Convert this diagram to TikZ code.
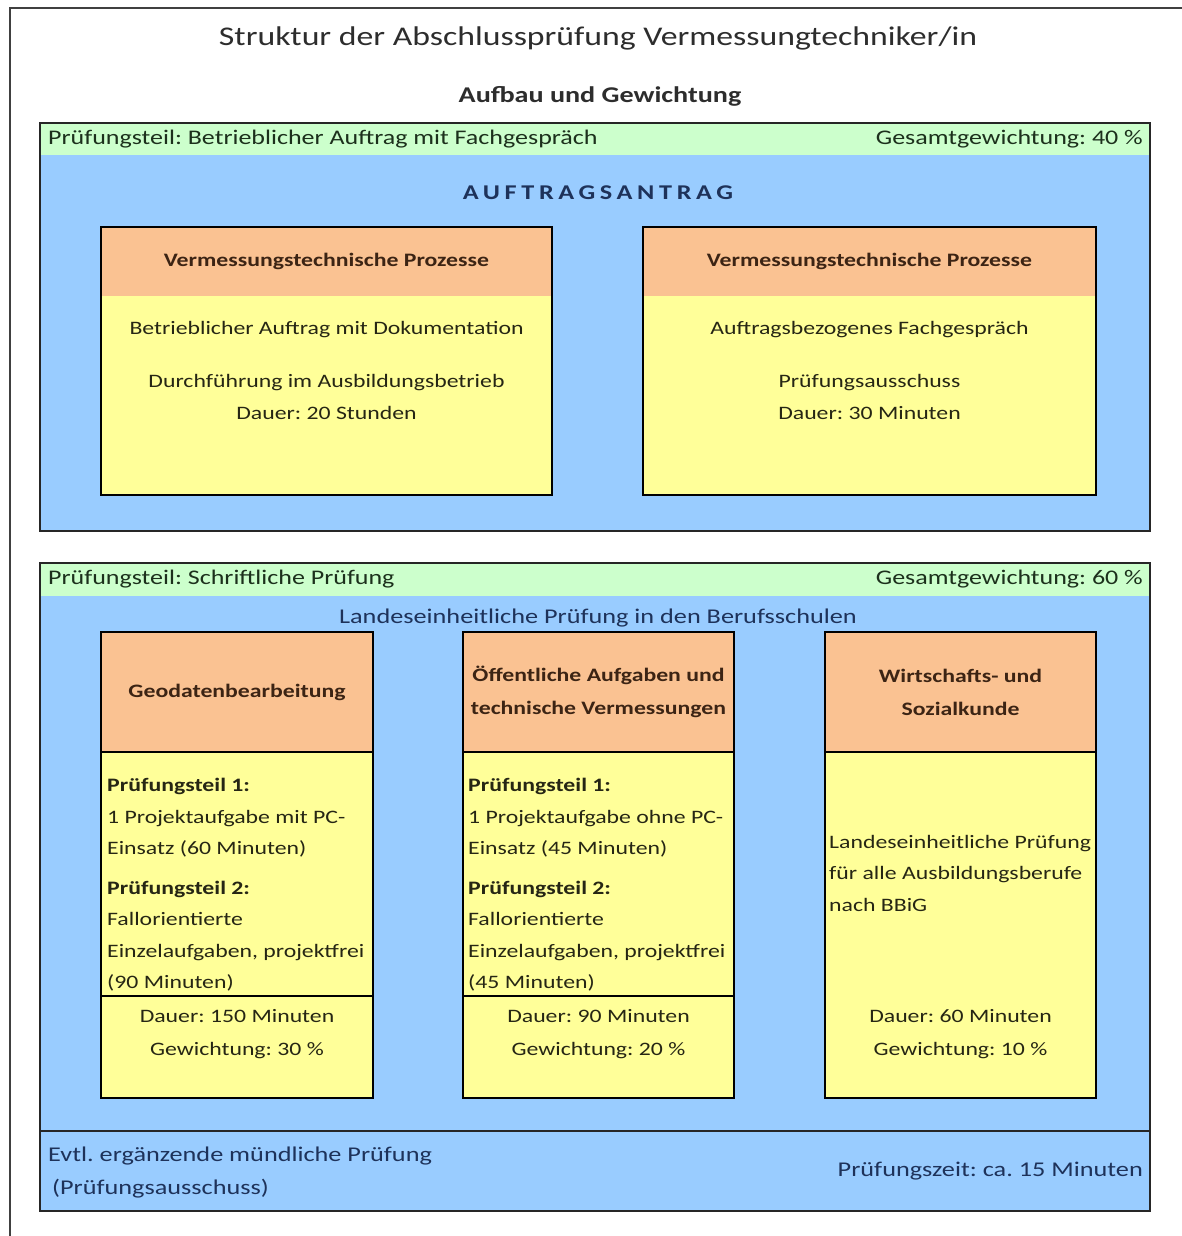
\documentclass[tikz,border=0pt]{standalone}
\usepackage{fontspec}
\setmainfont{Carlito}[FakeStretch=1.25]
\newfontfamily\spacedfont[FakeStretch=1.25,LetterSpace=22]{Carlito}
\usetikzlibrary{positioning,calc}
\definecolor{stripgreen}{RGB}{204,255,204}
\definecolor{secblue}{RGB}{153,204,255}
\definecolor{headorange}{RGB}{250,194,146}
\definecolor{bodyyellow}{RGB}{255,255,153}
\definecolor{inkgray}{RGB}{45,45,45}
\definecolor{inkgreen}{RGB}{28,48,28}
\definecolor{inknavy}{RGB}{30,50,90}
\definecolor{inkbrown}{RGB}{60,36,20}
\definecolor{inkolive}{RGB}{38,38,20}
\frenchspacing

\begin{document}
\begin{tikzpicture}[x=1pt,y=-1pt,
  box/.style={anchor=north west, inner sep=0pt, outer sep=0pt},
  secbox/.style={box, fill=secblue},
  stripbox/.style={box, fill=stripgreen},
  bodybox/.style={box, fill=bodyyellow, draw=black, line width=1.2pt},
  headfill/.style={box, fill=headorange, text=inkbrown, font=\fontsize{19}{33}\selectfont\bfseries, align=center},
  headbox/.style={headfill, draw=black, line width=1.2pt},
  secline/.style={draw=black!85, line width=1.3pt},
  boxline/.style={draw=black, line width=1.2pt},
  frameline/.style={draw=black!75, line width=2pt},
  titletxt/.style={font=\fontsize{27}{32}\selectfont, text=inkgray},
  subtxt/.style={font=\fontsize{22.5}{26}\selectfont\bfseries, text=inkgray},
  striptxt/.style={font=\fontsize{20.8}{25}\selectfont, text=inkgreen, inner sep=0pt},
  navytxt/.style={font=\fontsize{21}{33}\selectfont, text=inknavy, inner sep=0pt},
  bodytxt/.style={font=\fontsize{19}{31.5}\selectfont, text=inkolive, align=center, inner sep=0pt},
  coltxt/.style={font=\fontsize{19}{31.5}\selectfont, text=inkolive, align=left, inner sep=0pt, anchor=north west}
]
\useasboundingbox (0,0) rectangle (1181,1236);
\draw[frameline] (10,1240) -- (10,8) -- (1190,8);

\node[titletxt] (title) at (598,38) {Struktur der Abschlussprüfung Vermessungtechniker/in};
\node[subtxt] (subtitle) at (600,96) {Aufbau und Gewichtung};

% Betrieblicher Auftrag
\node[secbox, minimum width=1110pt, minimum height=408pt] (sec1) at (40,123) {};
\node[stripbox, minimum width=1110pt, minimum height=32pt] (strip1) at (sec1.north west) {};
\draw[secline] (sec1.north west) rectangle (sec1.south east);
\node[striptxt, anchor=west] (strip1l) at ($(strip1.west)+(8,0)$) {Prüfungsteil: Betrieblicher Auftrag mit Fachgespräch};
\node[striptxt, anchor=east] (strip1r) at ($(strip1.east)+(-7,0)$) {Gesamtgewichtung: 40~\%};
\node[navytxt] (antrag) at (598,193) {\spacedfont\bfseries AUFTRAGSANTRAG};

\node[bodybox, minimum width=451pt, minimum height=268pt] (auftrag) at (101,227) {};
\node[headfill, minimum width=451pt, minimum height=69pt] (auftraghd) at (auftrag.north west) {Vermessungstechnische Prozesse};
\draw[boxline] (auftrag.north west) rectangle (auftrag.south east);
\node[bodytxt] (auftrag1) at (326.5,330) {Betrieblicher Auftrag mit Dokumentation};
\node[bodytxt] (auftrag2) at (326.5,397) {Durchführung im Ausbildungsbetrieb\\Dauer: 20 Stunden};

\node[bodybox, minimum width=453pt, minimum height=268pt] (gespr) at (643,227) {};
\node[headfill, minimum width=453pt, minimum height=69pt] (gesprhd) at (gespr.north west) {Vermessungstechnische Prozesse};
\draw[boxline] (gespr.north west) rectangle (gespr.south east);
\node[bodytxt] (gespr1) at (869.5,330) {Auftragsbezogenes Fachgespräch};
\node[bodytxt] (gespr2) at (869.5,397) {Prüfungsausschuss\\Dauer: 30 Minuten};

% Schriftliche Pruefung
\node[secbox, minimum width=1110pt, minimum height=648pt] (sec2) at (40,563) {};
\node[stripbox, minimum width=1110pt, minimum height=33pt] (strip2) at (sec2.north west) {};
\draw[secline] (sec2.north west) rectangle (sec2.south east);
\draw[secline] ($(sec2.south west)+(0,-80)$) -- ($(sec2.south east)+(0,-80)$);
\node[striptxt, anchor=west] (strip2l) at ($(strip2.west)+(8,0)$) {Prüfungsteil: Schriftliche Prüfung};
\node[striptxt, anchor=east] (strip2r) at ($(strip2.east)+(-7,0)$) {Gesamtgewichtung: 60~\%};
\node[navytxt] (land) at (598,618) {Landeseinheitliche Prüfung in den Berufsschulen};

\node[bodybox, minimum width=272pt, minimum height=466pt] (geo) at (101,632) {};
\node[headbox, minimum width=272pt, minimum height=120pt] (geohd) at (geo.north west) {Geodatenbearbeitung};
\draw[boxline] ($(geo.south west)+(0,-102)$) -- ($(geo.south east)+(0,-102)$);
\node[coltxt] (geo1) at (107,778) {\textbf{Prüfungsteil 1:}\\1 Projektaufgabe mit PC-\\Einsatz (60 Minuten)\\[8pt]
  \textbf{Prüfungsteil 2:}\\Fallorientierte\\Einzelaufgaben, projektfrei\\(90 Minuten)};
\node[bodytxt] (geo2) at (237,1034) {Dauer: 150 Minuten\\[2pt]Gewichtung: 30~\%};

\node[bodybox, minimum width=271pt, minimum height=466pt] (oeff) at (463,632) {};
\node[headbox, minimum width=271pt, minimum height=120pt] (oeffhd) at (oeff.north west) {Öffentliche Aufgaben und\\technische Vermessungen};
\draw[boxline] ($(oeff.south west)+(0,-102)$) -- ($(oeff.south east)+(0,-102)$);
\node[coltxt] (oeff1) at (468,778) {\textbf{Prüfungsteil 1:}\\1 Projektaufgabe ohne PC-\\Einsatz (45 Minuten)\\[8pt]
  \textbf{Prüfungsteil 2:}\\Fallorientierte\\Einzelaufgaben, projektfrei\\(45 Minuten)};
\node[bodytxt] (oeff2) at (598.5,1034) {Dauer: 90 Minuten\\[2pt]Gewichtung: 20~\%};

\node[bodybox, minimum width=271pt, minimum height=466pt] (wiso) at (825,632) {};
\node[headbox, minimum width=271pt, minimum height=120pt] (wisohd) at (wiso.north west) {Wirtschafts- und\\Sozialkunde};
\node[coltxt, anchor=west] (wiso1) at (829,873) {Landeseinheitliche Prüfung\\für alle Ausbildungsberufe\\nach BBiG};
\node[bodytxt] (wiso2) at (960.5,1034) {Dauer: 60 Minuten\\[2pt]Gewichtung: 10~\%};

% muendliche Pruefung
\node[navytxt, align=left, anchor=west] (oral) at (48,1172) {Evtl. ergänzende mündliche Prüfung\\\hspace*{4pt}(Prüfungsausschuss)};
\node[navytxt, anchor=east] (oralzeit) at (1143,1171) {Prüfungszeit: ca. 15 Minuten};
\end{tikzpicture}
\end{document}
